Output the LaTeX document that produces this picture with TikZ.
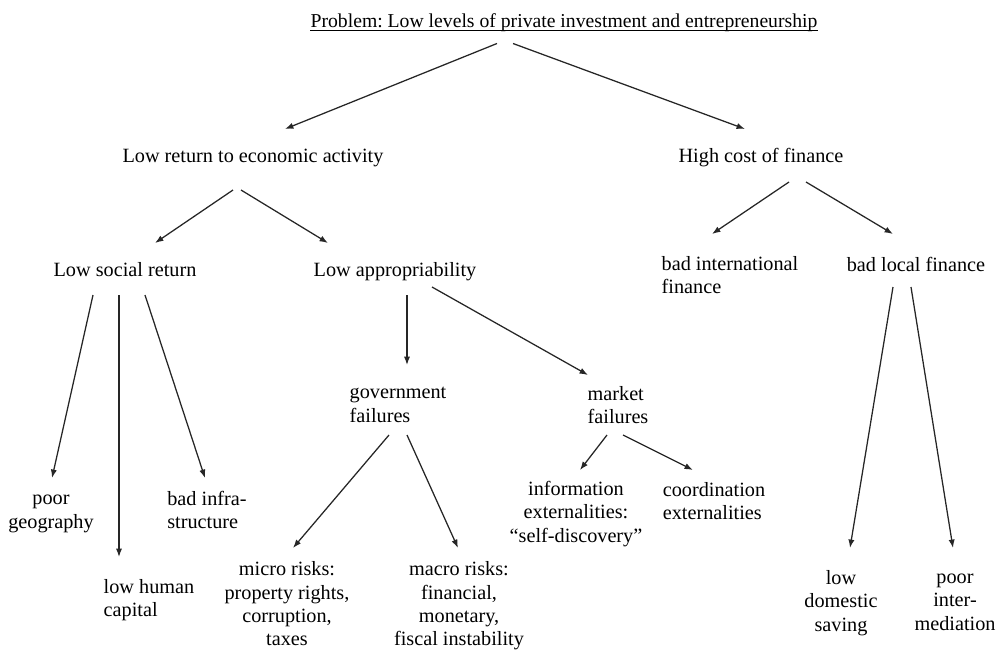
\documentclass[tikz,border=0pt]{standalone}
\usepackage{fontspec}
\setmainfont{Liberation Serif}
\usetikzlibrary{arrows.meta}
\frenchspacing

\begin{document}
\begin{tikzpicture}[x=0.025cm,y=-0.025cm,
	every node/.style={inner sep=0pt,font=\fontsize{14.4}{16.6}\selectfont},
	arr/.style={-{Latex[length=6pt,width=4.4pt]},line width=0.9pt,draw=black!85}]
	% fix the page size
	\useasboundingbox (0,0) rectangle (1002,652);
	% the problem at the top
	\node[font=\fontsize{14}{16.6}\selectfont] (title) at (564,22.5) {Problem: Low levels of private investment and entrepreneurship};
	\draw[line width=0.6pt] ([yshift=-2.5pt]title.base west) -- ([yshift=-2.5pt]title.base east);
	% first level
	\node (lowret) at (253,158) {Low return to economic activity};
	\node (highcost) at (761,158) {High cost of finance};
	% second level
	\node (lowsoc) at (125,270) {Low social return};
	\node (lowapp) at (395,272) {Low appropriability};
	\node[align=left] (badint) at (730,275) {bad international\\finance};
	\node (badloc) at (916,264) {bad local finance};
	% third level
	\node[align=center] (geo) at (51,514) {poor\\geography};
	\node[align=left] (human) at (149,600) {low human\\capital};
	\node[align=left] (infra) at (207,510) {bad infra-\\structure};
	\node[align=left] (govfail) at (398,405) {government\\failures};
	\node[align=left] (mktfail) at (618,405) {market\\failures};
	\node[align=center] (dom) at (841,603) {low\\domestic\\saving};
	\node[align=center] (inter) at (955,602) {poor\\inter-\\mediation};
	% fourth level
	\node[align=center] (micro) at (287,604) {micro risks:\\property rights,\\corruption,\\taxes};
	\node[align=center] (macro) at (459,606) {macro risks:\\financial,\\monetary,\\fiscal instability};
	\node[align=center] (info) at (576,514) {information\\externalities:\\``self-discovery''};
	\node[align=left] (coord) at (714,501) {coordination\\externalities};
	% arrows
	\draw[arr] ([shift={(-67,21)}]title.center) -- ([shift={(32,-29)}]lowret.center);
	\draw[arr] ([shift={(-51,21)}]title.center) -- ([shift={(-16,-29)}]highcost.center);
	\draw[arr] ([shift={(-20,32)}]lowret.center) -- ([shift={(30,-27)}]lowsoc.center);
	\draw[arr] ([shift={(-12,32)}]lowret.center) -- ([shift={(-67,-29)}]lowapp.center);
	\draw[arr] ([shift={(28,24)}]highcost.center) -- ([shift={(-18,-41)}]badint.center);
	\draw[arr] ([shift={(45,24)}]highcost.center) -- ([shift={(-23,-30)}]badloc.center);
	\draw[arr] ([shift={(-32,25)}]lowsoc.center) -- ([shift={(1,-36)}]geo.center);
	\draw[arr] ([shift={(-6,25)}]lowsoc.center) -- ([shift={(-30,-43)}]human.center);
	\draw[arr] ([shift={(20,25)}]lowsoc.center) -- ([shift={(-2,-32)}]infra.center);
	\draw[arr] ([shift={(12,23)}]lowapp.center) -- ([shift={(9,-40)}]govfail.center);
	\draw[arr] ([shift={(37,15)}]lowapp.center) -- ([shift={(-30,-30)}]mktfail.center);
	\draw[arr] ([shift={(-9,30)}]govfail.center) -- ([shift={(6,-56)}]micro.center);
	\draw[arr] ([shift={(9,30)}]govfail.center) -- ([shift={(-1,-58)}]macro.center);
	\draw[arr] ([shift={(-11,30)}]mktfail.center) -- ([shift={(4,-44)}]info.center);
	\draw[arr] ([shift={(5,30)}]mktfail.center) -- ([shift={(-21,-31)}]coord.center);
	\draw[arr] ([shift={(-23,23)}]badloc.center) -- ([shift={(9,-55)}]dom.center);
	\draw[arr] ([shift={(-5,23)}]badloc.center) -- ([shift={(-2,-54)}]inter.center);
\end{tikzpicture}
\end{document}
